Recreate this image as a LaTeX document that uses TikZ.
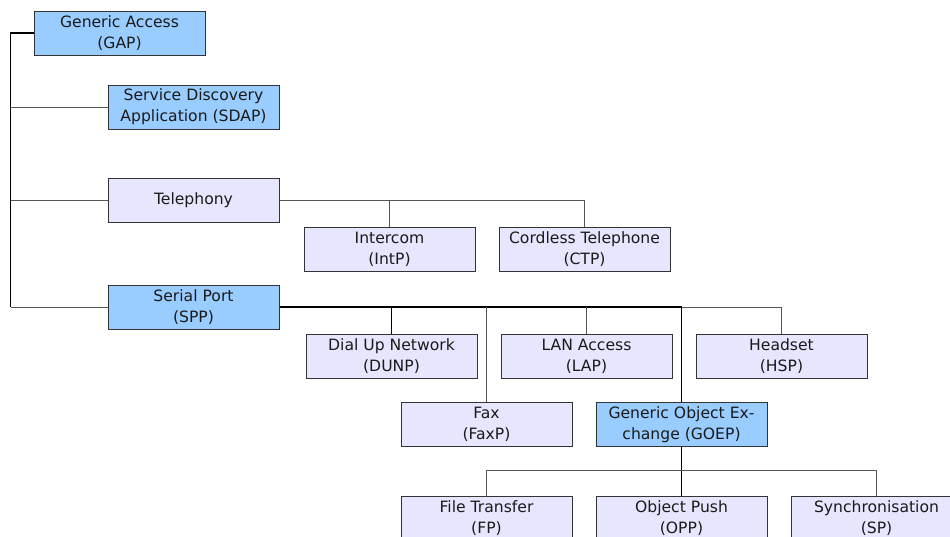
\documentclass[tikz,border=0pt]{standalone}
\usepackage{fontspec}
\setmainfont{DejaVu Sans}
\definecolor{boxblue}{HTML}{99CCFF}
\definecolor{boxlav}{HTML}{E6E6FF}
\definecolor{boxedge}{HTML}{333333}
\definecolor{linegray}{HTML}{555555}
\definecolor{txt}{HTML}{1A1A1A}
\begin{document}
\begin{tikzpicture}[x=1pt,y=-1pt,
  pbox/.style={draw=boxedge,line width=1pt,minimum width=171pt,minimum height=44pt,inner sep=0pt,align=center,text=txt,font=\fontsize{15.6}{21}\selectfont},
  bluebox/.style={pbox,fill=boxblue},
  lavbox/.style={pbox,fill=boxlav},
  trunk/.style={draw=black,line width=1.3pt},
  branch/.style={draw=linegray,line width=1pt}]
\useasboundingbox[fill=white] (0,0) rectangle (950,536);
\node[bluebox] (gap) at (119.5,33) {Generic Access\\(GAP)};
\node[bluebox] (sdap) at (193.5,107) {Service Discovery\\Application (SDAP)};
\node[lavbox] (tel) at (193.5,200) {Telephony};
\node[bluebox] (spp) at (193.5,307) {Serial Port\\(SPP)};
\node[lavbox] (int) at (389.5,249) {Intercom\\(IntP)};
\node[lavbox] (ctp) at (584.5,249) {Cordless Telephone\\(CTP)};
\node[lavbox] (dunp) at (391.5,356.5) {Dial Up Network\\(DUNP)};
\node[lavbox] (lap) at (586.5,356.5) {LAN Access\\(LAP)};
\node[lavbox] (hsp) at (781.5,356.5) {Headset\\(HSP)};
\node[lavbox] (fax) at (486.5,424.5) {Fax\\(FaxP)};
\node[bluebox] (goep) at (681.5,424.5) {Generic Object Ex-\\change (GOEP)};
\node[lavbox] (fp) at (486.5,518) {File Transfer\\(FP)};
\node[lavbox] (opp) at (681.5,518) {Object Push\\(OPP)};
\node[lavbox] (sp) at (876.5,518) {Synchronisation\\(SP)};
% left trunk
\draw[trunk] (gap.west) -- ++(-23,0) coordinate (t1) -- (t1 |- spp.west);
\draw[branch] (t1 |- sdap.west) -- (sdap.west);
\draw[branch] (t1 |- tel.west) -- (tel.west);
\draw[branch] (t1 |- spp.west) -- (spp.west);
% telephony
\draw[branch] (tel.east) -- (ctp.north |- tel.east) -- (ctp.north);
\draw[branch] (int.north) -- (int.north |- tel.east);
% serial port
\draw[trunk] (spp.east) -- (goep.north |- spp.east);
\draw[branch] (goep.north |- spp.east) -- (hsp.north |- spp.east) -- (hsp.north);
\draw[trunk] (dunp.north) -- (dunp.north |- spp.east);
\draw[branch] (lap.north) -- (lap.north |- spp.east);
\draw[branch] (fax.north) -- (fax.north |- spp.east);
\draw[trunk] (goep.north) -- (goep.north |- spp.east);
% GOEP
\draw[trunk] (goep.south) -- (opp.north);
\draw[branch] (fp.north) -- ++(0,-25) coordinate (g1) -| (sp.north);
\end{tikzpicture}
\end{document}
